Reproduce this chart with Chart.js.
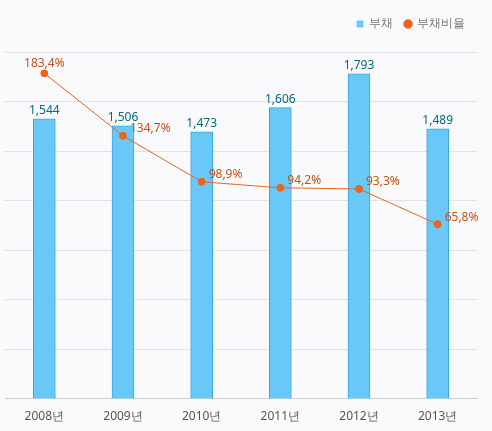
<!DOCTYPE html>
<html><head><meta charset="utf-8">
<script src="https://cdn.jsdelivr.net/npm/chart.js@4"></script>
<style>html,body{margin:0;padding:0;background:#fafafc}#w{width:492px;height:431px}</style>
</head><body><div id="w"><canvas id="c"></canvas></div>
<script>
const categories = ['2008년','2009년','2010년','2011년','2012년','2013년'];
const debt = [1544,1506,1473,1606,1793,1489];
const debtRatio = [183.4,134.7,98.9,94.2,93.3,65.8];
const debtLabels = ['1,544','1,506','1,473','1,606','1,793','1,489'];
const ratioLabels = ['183,4%','134,7%','98,9%','94,2%','93,3%','65,8%'];

const labelPlugin = {
  id:'labels',
  afterDatasetsDraw(chart){
    const ctx = chart.ctx;
    ctx.save();
    ctx.font = '12px "Noto Sans", sans-serif';
    chart.getDatasetMeta(0).data.forEach((b,i)=>{
      ctx.fillStyle='#006a80'; ctx.textAlign='center'; ctx.textBaseline='bottom';
      ctx.fillText(debtLabels[i], b.x, b.y-2);
    });
    chart.getDatasetMeta(1).data.forEach((p,i)=>{
      ctx.fillStyle='#c8501a'; ctx.textBaseline='bottom';
      if(i===0){ctx.textAlign='center'; ctx.fillText(ratioLabels[i], p.x, p.y-4);}
      else {ctx.textAlign='left'; ctx.fillText(ratioLabels[i], p.x+7, p.y-1);}
    });
    ctx.restore();
  }
};
const legendSpace = {id:'legendSpace',beforeInit(chart){
  const orig = chart.legend.fit; chart.legend.fit = function(){orig.bind(chart.legend)(); this.height += 12;};
}};

new Chart(document.getElementById('c'),{
  data:{labels:categories,datasets:[
    {type:'bar',label:'부채',data:debt,backgroundColor:'#6ac8f8',borderColor:'#3aa6e0',borderWidth:1,barThickness:22,yAxisID:'y',order:2},
    {type:'line',label:'부채비율',data:debtRatio,borderColor:'#e8661a',backgroundColor:'#e8661a',borderWidth:1,pointRadius:3.5,pointStyle:'circle',yAxisID:'y1',order:1}
  ]},
  options:{responsive:true,maintainAspectRatio:false,animation:false,
    layout:{padding:{left:-5,right:15,top:6,bottom:4}},
    plugins:{tooltip:{enabled:false},
      legend:{position:'top',align:'end',labels:{usePointStyle:true,boxWidth:6,boxHeight:6,color:'#777',font:{size:12,family:'"Noto Sans", sans-serif'},padding:12,
        generateLabels(chart){return [
          {text:'부채',fillStyle:'#6ac8f8',strokeStyle:'#6ac8f8',pointStyle:'rect',datasetIndex:0,fontColor:'#777'},
          {text:'부채비율',fillStyle:'#e8661a',strokeStyle:'#e8661a',pointStyle:'circle',datasetIndex:1,fontColor:'#777'}];}}}},
    scales:{
      x:{grid:{display:false},border:{color:'#ccc'},ticks:{color:'#555',font:{size:12,family:'"Noto Sans", sans-serif'}}},
      y:{min:0,max:1913,display:false,grid:{display:false}},
      y1:{min:-70,max:200,position:'left',ticks:{display:false,stepSize:270/7},grid:{color:'#e2e2e6',drawTicks:false},border:{display:false}}
    }},
  plugins:[labelPlugin,legendSpace]
});
</script></body></html>
